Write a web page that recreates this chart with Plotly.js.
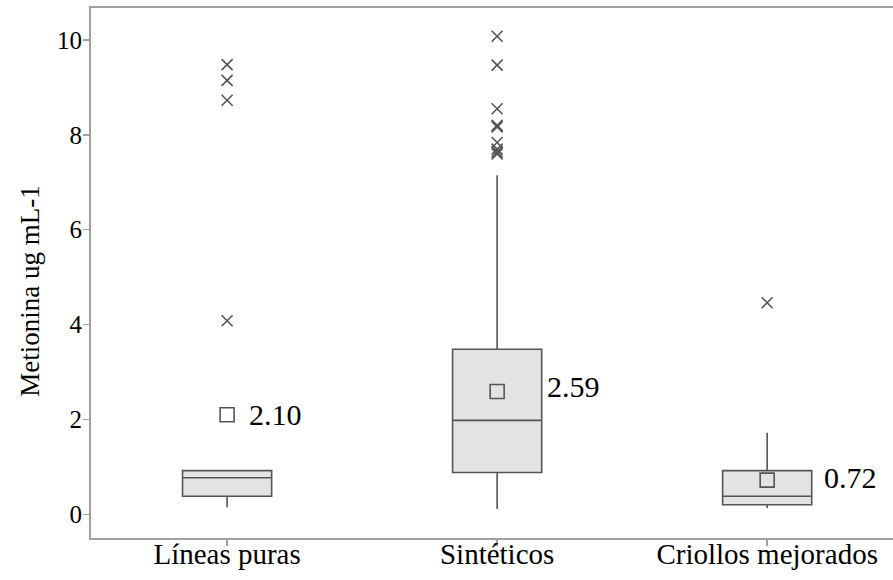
<!DOCTYPE html>
<html>
<head>
<meta charset="utf-8">
<script src="https://cdn.plot.ly/plotly-3.0.1.min.js"></script>
<style>
  html, body { margin: 0; padding: 0; background: #ffffff; }
  #chart { width: 893px; height: 580px; }
</style>
</head>
<body>
<div id="chart"></div>
<script>
// Methionine content (ug mL-1) by germplasm group
const groups = ["Líneas puras", "Sintéticos", "Criollos mejorados"];

// Box statistics per group
const q1 = [0.38, 0.88, 0.20];
const median = [0.77, 1.98, 0.38];
const q3 = [0.92, 3.48, 0.92];
const lowerWhisker = [0.15, 0.11, 0.13];
const upperWhisker = [0.92, 7.15, 1.72];

// Group means (shown as open squares with their value)
const means = [2.10, 2.59, 0.72];

// Outliers per group
const outLineas = [9.48, 9.15, 8.73, 4.08];
const outSinteticos = [10.08, 9.47, 8.55, 8.20, 8.17, 7.84, 7.70, 7.64, 7.60];
const outCriollos = [4.46];

const yTicks = [0, 2, 4, 6, 8, 10];
const yTitle = "Metionina ug mL-1";

// Horizontal offsets (px) of the mean value labels
const labelShift = [20, 48, 55];
const labelLift = [0, 5, 3];

const dark = "#555555";
const axisGray = "#a0a0a0";
const serif = "Liberation Serif, Times New Roman, serif";

const boxTrace = {
  type: "box",
  x: groups,
  q1: q1,
  median: median,
  q3: q3,
  lowerfence: lowerWhisker,
  upperfence: upperWhisker,
  boxpoints: false,
  width: 0.33,
  whiskerwidth: 0,
  fillcolor: "#e3e3e3",
  line: { color: dark, width: 1.6 },
  hoverinfo: "skip",
  showlegend: false
};

const outX = [];
const outY = [];
[outLineas, outSinteticos, outCriollos].forEach((arr, i) => {
  arr.forEach(v => { outX.push(groups[i]); outY.push(v); });
});

const outlierTrace = {
  type: "scatter",
  mode: "markers",
  x: outX,
  y: outY,
  marker: { symbol: "x-thin", size: 11, color: dark, line: { color: dark, width: 1.6 } },
  hoverinfo: "skip",
  showlegend: false
};

const meanTrace = {
  type: "scatter",
  mode: "markers",
  x: groups,
  y: means,
  marker: { symbol: "square-open", size: 14, color: dark, line: { color: dark, width: 1.6 } },
  hoverinfo: "skip",
  showlegend: false
};

const annotations = groups.map((g, i) => ({
  x: g,
  y: means[i],
  xref: "x",
  yref: "y",
  text: means[i].toFixed(2),
  showarrow: false,
  xanchor: "left",
  yanchor: "middle",
  xshift: labelShift[i],
  yshift: labelLift[i],
  font: { family: serif, size: 30, color: "#000000" }
}));

// Vertical axis title, centred on the figure height
annotations.push({
  xref: "paper",
  yref: "paper",
  x: -0.077,
  y: 0.465,
  text: yTitle,
  textangle: -90,
  showarrow: false,
  xanchor: "center",
  yanchor: "middle",
  font: { family: serif, size: 27, color: "#000000" }
});

const layout = {
  width: 893,
  height: 580,
  margin: { l: 91, r: 0, t: 8, b: 42 },
  paper_bgcolor: "#ffffff",
  plot_bgcolor: "#ffffff",
  font: { family: serif, color: "#000000" },
  xaxis: {
    type: "category",
    range: [-0.504, 2.466],
    showline: true,
    linecolor: axisGray,
    linewidth: 2,
    mirror: true,
    ticks: "outside",
    ticklen: 6,
    tickwidth: 1.5,
    tickcolor: axisGray,
    ticklabelstandoff: -17,
    showgrid: false,
    zeroline: false,
    tickfont: { family: serif, size: 29, color: "#000000" }
  },
  yaxis: {
    range: [-0.5, 10.675],
    tickvals: yTicks,
    showline: true,
    linecolor: axisGray,
    linewidth: 2,
    ticks: "outside",
    ticklen: 6,
    tickwidth: 1.5,
    tickcolor: axisGray,
    ticklabelstandoff: -4,
    showgrid: false,
    zeroline: false,
    tickfont: { family: serif, size: 25, color: "#000000" }
  },
  annotations: annotations,
  showlegend: false
};

Plotly.newPlot("chart", [boxTrace, outlierTrace, meanTrace], layout, { displayModeBar: false, staticPlot: true });
</script>
</body>
</html>
